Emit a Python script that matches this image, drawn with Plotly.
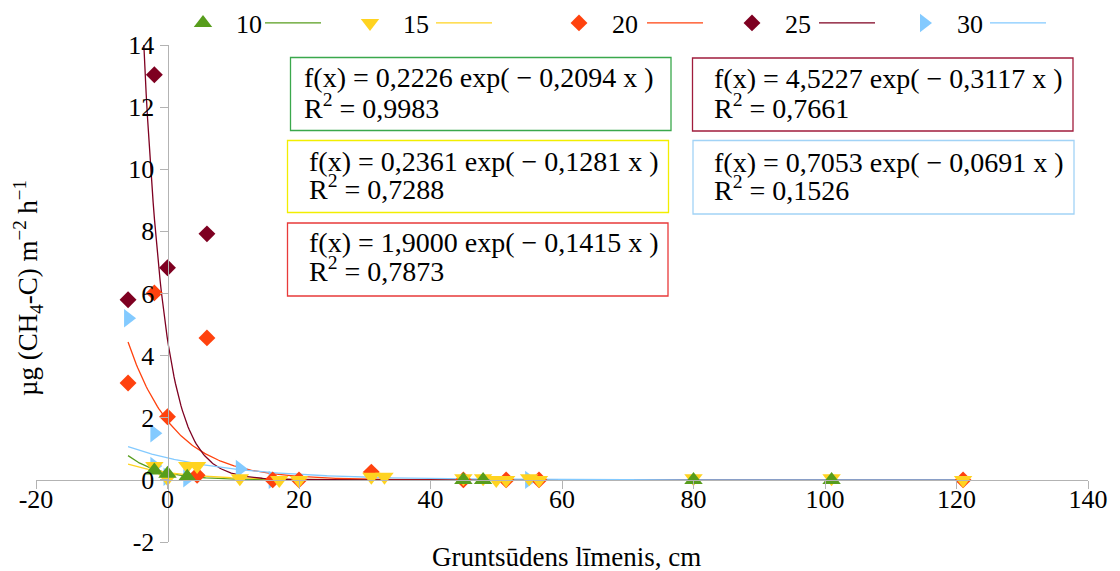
import numpy as np
import plotly.graph_objects as go

# Groundwater level (cm) and CH4-C flux for each soil-temperature series
t10_x = [-2, 0, 3, 45, 48, 80, 101]
t10_y = [0.30, 0.20, 0.10, 0.0, 0.0, 0.0, 0.0]

t15_x = [-2, 0, 3, 4.5, 11, 17, 20, 31, 33, 45, 48, 50, 51.5, 55, 56.5, 80, 101, 121]
t15_y = [0.45, 0.05, 0.45, 0.45, 0.05, 0.0, 0.0, 0.1, 0.1, 0.05, 0.05, 0.0, 0.0, 0.05, 0.0, 0.05, 0.05, 0.0]

t20_x = [-6, -2, 0, 4.5, 6, 16, 20, 31, 45, 51.5, 56.5, 121]
t20_y = [3.12, 6.02, 2.03, 0.15, 4.57, 0.0, 0.0, 0.25, 0.0, 0.0, 0.0, 0.0]

t25_x = [-6, -2, 0, 6]
t25_y = [5.80, 13.04, 6.83, 7.92]

t30_x = [-6, -2, -2, 0, 3, 11, 16, 55]
t30_y = [5.20, 1.50, 0.45, 0.10, 0.05, 0.35, 0.0, 0.0]

series_names = ["10", "15", "20", "25", "30"]
series_x = [t10_x, t15_x, t20_x, t25_x, t30_x]
series_y = [t10_y, t15_y, t20_y, t25_y, t30_y]

# Exponential trend lines f(x) = a * exp(b * x)
fit_a = [0.2226, 0.2361, 1.9000, 4.5227, 0.7053]
fit_b = [-0.2094, -0.1281, -0.1415, -0.3117, -0.0691]
fit_r2 = [0.9983, 0.7288, 0.7873, 0.7661, 0.1526]

x_ticks = [-20, 0, 20, 40, 60, 80, 100, 120, 140]
x_tick_text = ["-20", "0", "20", "40", "60", "80", "100", "120", "140"]
y_ticks = [-2, 0, 2, 4, 6, 8, 10, 12, 14]
y_tick_text = ["-2", "0", "2", "4", "6", "8", "10", "12", "14"]

colors = ["#579D1C", "#FFD320", "#FF420E", "#7E0021", "#83CAFF"]
symbols = ["triangle-up", "triangle-down", "diamond", "diamond", "triangle-right"]
sizes = [16, 16, 13, 13, 16]
box_colors = ["#3aa84c", "#f2ee00", "#e83a3a", "#a01c3c", "#a2d3f6"]

# legend entry widths (marker entry, line entry) per series
legend_marker_w = [19, 23, 25, 24, 23]
legend_line_w = [6, 44, 6, 6, 6]

FONT = "Liberation Serif, Times New Roman, serif"
W, H = 1120, 571
ML, MR, MT, MB = 36, 32, 45, 29
PW, PH = W - ML - MR, H - MT - MB


def px(x):
    return (x - ML) / PW


def py(y):
    return (H - MB - y) / PH


fig = go.Figure()

all_x = np.concatenate([np.asarray(v, dtype=float) for v in series_x])
xs = np.linspace(all_x.min(), all_x.max(), 600)

# trend lines underneath the markers
for i, name in enumerate(series_names):
    fig.add_trace(go.Scatter(
        x=xs, y=fit_a[i] * np.exp(fit_b[i] * xs), mode="lines",
        line=dict(color=colors[i], width=1.3), name=" ",
        legendrank=2 * i + 2, legendwidth=legend_line_w[i], hoverinfo="skip"))

# markers, last series drawn first
for i in reversed(range(len(series_names))):
    fig.add_trace(go.Scatter(
        x=series_x[i], y=series_y[i], mode="markers", name=series_names[i],
        marker=dict(symbol=symbols[i], size=sizes[i], color=colors[i],
                    line=dict(width=0)),
        legendrank=2 * i + 1, legendwidth=legend_marker_w[i]))

axis_common = dict(showgrid=False, zeroline=False, showline=True,
                   linecolor="#b3b3b3", linewidth=1, ticks="outside",
                   ticklen=8, tickcolor="#b3b3b3", tickwidth=1,
                   tickfont=dict(family=FONT, size=26, color="black"))

fig.update_layout(
    width=W, height=H,
    margin=dict(l=ML, r=MR, t=MT, b=MB, autoexpand=False),
    paper_bgcolor="white", plot_bgcolor="white",
    font=dict(family=FONT, size=26, color="black"),
    xaxis=dict(range=[-20, 140], tickvals=x_ticks, ticktext=x_tick_text,
               anchor="free", position=0.125, domain=[0, 1],
               ticklabelstandoff=-12, **axis_common),
    yaxis=dict(range=[-2, 14], tickvals=y_ticks, ticktext=y_tick_text,
               anchor="free", position=0.125, domain=[0, 1], **axis_common),
    legend=dict(orientation="h", x=px(170), xanchor="left", y=py(23),
                yanchor="middle", traceorder="normal", itemwidth=56,
                bgcolor="rgba(0,0,0,0)",
                font=dict(family=FONT, size=26, color="black")),
    showlegend=True,
)

# equation boxes: (left, top, right, bottom, text-left, baseline1, baseline2)
boxes = [
    (290.5, 57.5, 671, 130.5, 302, 87, 116),
    (287.5, 140.5, 668.5, 212.5, 307, 171, 197),
    (287.5, 223, 668, 296, 307, 252, 279),
    (692.5, 58, 1073, 131, 712, 88, 116),
    (693, 140.5, 1074, 214, 712, 172, 198),
]
EQ_SIZE = 28
for i, (x0, y0, x1, y1, tx, b1, b2) in enumerate(boxes):
    fig.add_shape(type="rect", xref="paper", yref="paper",
                  x0=px(x0), x1=px(x1), y0=py(y1), y1=py(y0),
                  line=dict(color=box_colors[i], width=1.3),
                  fillcolor="white", layer="above")
    eq = "f(x) = {:.4f} exp( \u2212 {:.4f} x )".format(fit_a[i], abs(fit_b[i])).replace(".", ",")
    r2 = "R<sup>2</sup> = {:.4f}".format(fit_r2[i]).replace(".", ",")
    for txt, base in ((eq, b1), (r2, b2)):
        fig.add_annotation(text=txt, xref="paper", yref="paper",
                           x=px(tx), y=py(base - 0.3375 * EQ_SIZE), xanchor="left",
                           yanchor="middle", showarrow=False,
                           font=dict(family=FONT, size=EQ_SIZE, color="black"))

# axis titles
fig.add_annotation(text="Gruntsūdens līmenis, cm", xref="paper", yref="paper",
                   x=px(566), y=py(557), xanchor="center", yanchor="middle",
                   showarrow=False, font=dict(family=FONT, size=27, color="black"))
fig.add_annotation(text="µg (CH<sub>4</sub>-C) m<sup>\u22122</sup> h<sup>\u22121</sup>",
                   xref="paper", yref="paper", x=px(28), y=py(288),
                   xanchor="center", yanchor="middle", textangle=-90,
                   showarrow=False, font=dict(family=FONT, size=27, color="black"))

fig.write_html("out.html")
